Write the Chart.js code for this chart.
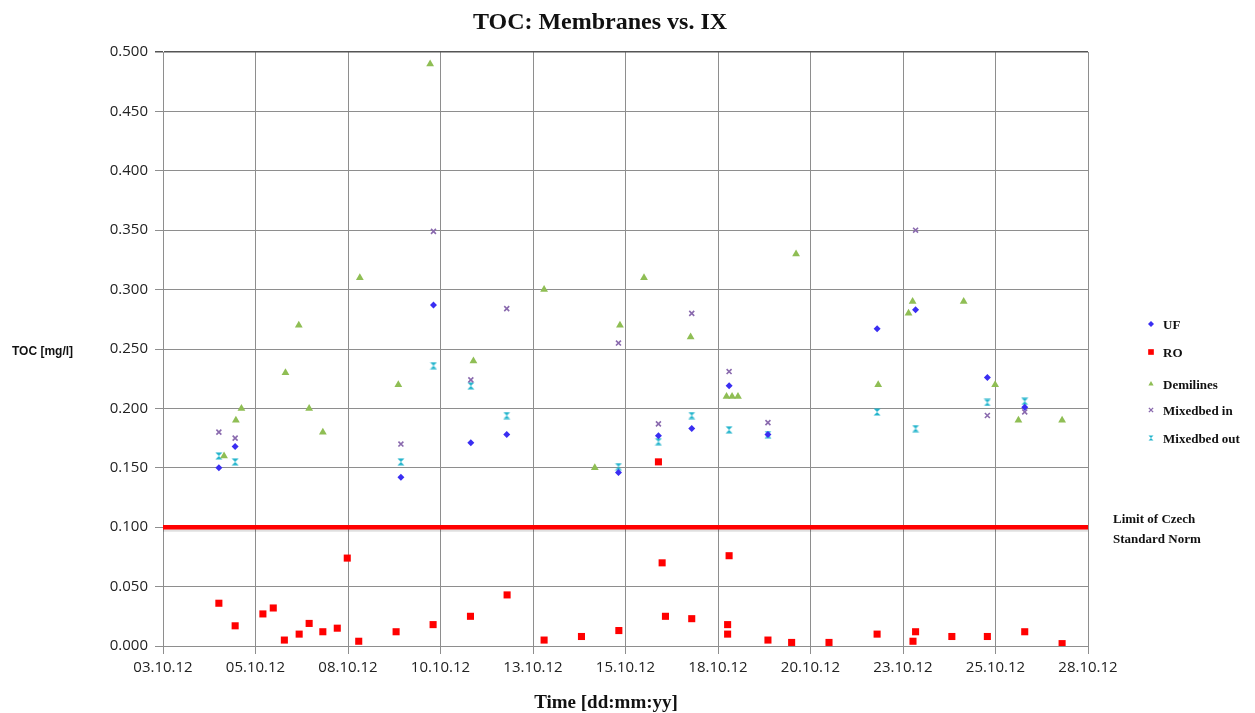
<!DOCTYPE html>
<html lang="en">
<head>
  <meta charset="UTF-8">
  <title>TOC: Membranes vs. IX</title>
  <style>
    html, body { margin: 0; padding: 0; background: white; }
    #wrap { width: 1255px; height: 713px; }
  </style>
  <script src="https://cdn.jsdelivr.net/npm/chart.js@4/dist/chart.umd.js"></script>
</head>
<body>
  <div id="wrap"><canvas id="tocChart" width="1255" height="713"></canvas></div>
  <script>
    // x values are days in October 2012
    const ufDays   = [4.51, 4.95, 9.43, 10.31, 11.32, 12.29, 15.31, 16.39, 17.29, 18.30, 19.35, 22.30, 23.34, 25.28, 26.29];
    const ufValues = [0.150, 0.168, 0.142, 0.287, 0.171, 0.178, 0.146, 0.177, 0.183, 0.219, 0.178, 0.267, 0.283, 0.226, 0.201];

    const roDays   = [4.51, 4.95, 5.70, 5.98, 6.28, 6.68, 6.95, 7.32, 7.71, 7.98, 8.29, 9.30, 10.30, 11.31, 12.30, 13.30, 14.31, 15.32,
                      16.39, 16.49, 16.58, 17.29, 18.30, 18.26, 18.26, 19.35, 19.99, 21.00, 22.30, 23.34, 23.27, 24.32, 25.28, 26.29, 27.30];
    const roValues = [0.036, 0.017, 0.027, 0.032, 0.005, 0.010, 0.019, 0.012, 0.015, 0.074, 0.004, 0.012, 0.018, 0.025, 0.043, 0.005, 0.008, 0.013,
                      0.155, 0.070, 0.025, 0.023, 0.076, 0.018, 0.010, 0.005, 0.003, 0.003, 0.010, 0.012, 0.004, 0.008, 0.008, 0.012, 0.002];

    const demiDays   = [4.65, 4.97, 5.12, 6.31, 6.67, 6.95, 7.32, 8.32, 9.36, 10.22, 11.39, 13.30, 14.67, 15.35, 16.00, 17.26, 18.23, 18.38,
                        18.54, 20.11, 22.33, 23.15, 23.26, 24.64, 25.49, 26.12, 27.30];
    const demiValues = [0.160, 0.190, 0.200, 0.230, 0.270, 0.200, 0.180, 0.310, 0.220, 0.490, 0.240, 0.300, 0.150, 0.270, 0.310, 0.260, 0.210, 0.210,
                        0.210, 0.330, 0.220, 0.280, 0.290, 0.290, 0.220, 0.190, 0.190];

    const mixInDays   = [4.51, 4.95, 9.43, 10.31, 11.32, 12.29, 15.31, 16.39, 17.29, 18.30, 19.35, 23.34, 25.28, 26.29];
    const mixInValues = [0.180, 0.175, 0.170, 0.349, 0.224, 0.284, 0.255, 0.187, 0.280, 0.231, 0.188, 0.350, 0.194, 0.197];

    const mixOutDays   = [4.51, 4.95, 9.43, 10.31, 11.32, 12.29, 15.31, 16.39, 17.29, 18.30, 19.35, 22.30, 23.34, 25.28, 26.29];
    const mixOutValues = [0.160, 0.155, 0.155, 0.236, 0.219, 0.194, 0.151, 0.172, 0.194, 0.182, 0.178, 0.197, 0.183, 0.205, 0.206];

    const limitDays   = [3, 28];
    const limitValues = [0.1, 0.1];

    const seriesNames = ['UF', 'RO', 'Demilines', 'Mixedbed in', 'Mixedbed out'];
    const limitLabel  = ['Limit of Czech', 'Standard Norm'];

    const pts = (xs, ys) => xs.map((x, i) => ({ x: x, y: ys[i] }));

    // hourglass marker like the Excel "star" marker
    function hourglass(color, s) {
      const c = document.createElement('canvas');
      c.width = s; c.height = s;
      const g = c.getContext('2d');
      g.fillStyle = color;
      g.beginPath();
      g.moveTo(0.5, 0.5); g.lineTo(s - 0.5, 0.5); g.lineTo(0.5, s - 0.5); g.lineTo(s - 0.5, s - 0.5);
      g.closePath(); g.fill();
      return c;
    }
    const mixOutMarker = hourglass('#22b4cc', 8);
    const mixOutLegend = hourglass('#22b4cc', 6);

    const styles = [
      { pointStyle: 'rectRot', color: '#3a2ef2', radius: 3.5 },
      { pointStyle: 'rect', color: '#ff0000', radius: 5 },
      { pointStyle: 'triangle', color: '#8fbe54', radius: 4.5 },
      { pointStyle: 'crossRot', color: '#8a6aae', radius: 3.5 },
      { pointStyle: mixOutMarker, color: '#22b4cc', radius: 4 }
    ];

    const seriesData = [
      pts(ufDays, ufValues),
      pts(roDays, roValues),
      pts(demiDays, demiValues),
      pts(mixInDays, mixInValues),
      pts(mixOutDays, mixOutValues)
    ];

    const datasets = seriesNames.map((n, i) => ({
      label: n,
      data: seriesData[i],
      showLine: false,
      pointStyle: styles[i].pointStyle,
      pointRadius: styles[i].radius,
      pointHoverRadius: styles[i].radius,
      backgroundColor: styles[i].color,
      borderColor: styles[i].color,
      borderWidth: i === 3 ? 1.6 : 0
    }));
    datasets.push({
      label: 'limit',
      data: pts(limitDays, limitValues),
      showLine: true,
      pointRadius: 0,
      borderColor: '#ff0000',
      borderWidth: 4.5
    });

    const serif = '"Liberation Serif", "DejaVu Serif", serif';

    const textPlugin = {
      id: 'textPlugin',
      beforeDatasetsDraw(chart) {
        // soft shadow under the limit line
        const ctx = chart.ctx, x = chart.scales.x, y = chart.scales.y;
        ctx.save();
        ctx.strokeStyle = 'rgba(0,0,0,0.12)';
        ctx.lineWidth = 3;
        ctx.beginPath();
        ctx.moveTo(x.getPixelForValue(limitDays[0]), y.getPixelForValue(limitValues[0]) + 3);
        ctx.lineTo(x.getPixelForValue(limitDays[1]), y.getPixelForValue(limitValues[1]) + 3);
        ctx.stroke();
        ctx.restore();
      },
      afterDraw(chart) {
        const ctx = chart.ctx, y = chart.scales.y;
        ctx.save();
        ctx.fillStyle = '#111';
        ctx.textBaseline = 'middle';

        ctx.font = 'bold 24px ' + serif;
        ctx.textAlign = 'center';
        ctx.fillText('TOC: Membranes vs. IX', 600, 23);

        ctx.font = 'bold 19px ' + serif;
        ctx.fillText('Time [dd:mm:yy]', 606, 703);

        ctx.font = 'bold 12px "Liberation Sans", Arial, sans-serif';
        ctx.textAlign = 'left';
        ctx.fillText('TOC [mg/l]', 12, 352);

        // legend
        const rows = [326, 354, 386, 412, 440];
        ctx.font = 'bold 13px ' + serif;
        seriesNames.forEach((n, i) => {
          const st = styles[i];
          ctx.fillStyle = st.color;
          ctx.strokeStyle = st.color;
          ctx.lineWidth = i === 3 ? 1.4 : 0;
          Chart.helpers.drawPoint(ctx, {
            pointStyle: i === 4 ? mixOutLegend : st.pointStyle,
            radius: i === 1 ? 4 : 3,
            rotation: 0,
            borderWidth: i === 3 ? 1.4 : 0
          }, 1151, rows[i] - 2);
          ctx.fillStyle = '#111';
          ctx.fillText(n, 1163, rows[i]);
        });

        // limit label beside the line end
        const ly = y.getPixelForValue(limitValues[1]);
        ctx.fillText(limitLabel[0], 1113, ly - 8);
        ctx.fillText(limitLabel[1], 1113, ly + 12);
        ctx.restore();
      }
    };

    const tickFont = { family: '"Open Sans", "Liberation Sans", sans-serif', size: 15 };

    new Chart(document.getElementById('tocChart'), {
      type: 'scatter',
      data: { datasets: datasets },
      plugins: [textPlugin],
      options: {
        responsive: false,
        animation: false,
        layout: { padding: { left: 0, right: 167, top: 52, bottom: 0 } },
        plugins: {
          legend: { display: false },
          title: { display: false },
          tooltip: { enabled: false }
        },
        scales: {
          x: {
            type: 'linear',
            min: 3,
            max: 28,
            afterFit(scale) { scale.height = 67; },
            afterBuildTicks(scale) {
              scale.ticks = [];
              for (let v = 3; v <= 28.001; v += 2.5) scale.ticks.push({ value: v });
            },
            ticks: {
              autoSkip: false,
              maxRotation: 0,
              padding: 5,
              color: '#222',
              font: tickFont,
              callback: v => String(Math.floor(v + 0.001)).padStart(2, '0') + '.10.12'
            },
            grid: { color: '#8e8e8e', lineWidth: 1, tickLength: 8 },
            border: { color: '#8e8e8e' }
          },
          y: {
            min: 0,
            max: 0.5,
            afterFit(scale) { scale.width = 163; },
            ticks: {
              stepSize: 0.05,
              padding: 7,
              color: '#222',
              font: tickFont,
              callback: v => v.toFixed(3)
            },
            grid: {
              color: ctx => (ctx.tick && Math.abs(ctx.tick.value - 0.5) < 1e-6) ? '#555' : '#8e8e8e',
              lineWidth: ctx => (ctx.tick && Math.abs(ctx.tick.value - 0.5) < 1e-6) ? 1.5 : 1,
              tickLength: 8
            },
            border: { color: '#8e8e8e' }
          }
        }
      }
    });
  </script>
</body>
</html>
